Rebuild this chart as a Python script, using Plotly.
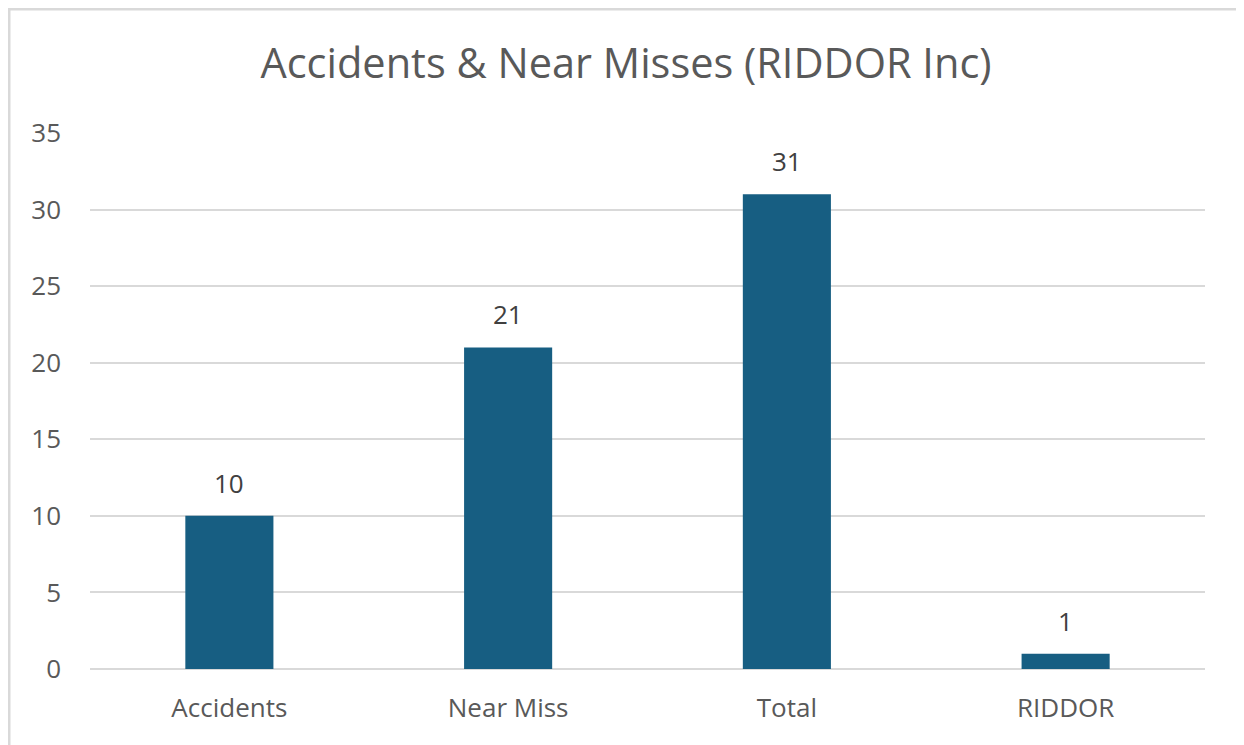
import plotly.graph_objects as go

categories = ["Accidents", "Near Miss", "Total", "RIDDOR"]
values = [10, 21, 31, 1]
y_ticks = [0, 5, 10, 15, 20, 25, 30, 35]
title_text = "Accidents & Near Misses (RIDDOR Inc)"

# page has an 8px body margin, so the figure is drawn from (8, 8)
W, H = 1236, 737
L, R, T, B = 82, 39, 125, 76
pw = W - L - R
ph = H - T - B

FONT = "Open Sans"

fig = go.Figure(go.Bar(
    x=categories, y=values,
    marker=dict(color="#175E82", line=dict(width=0)),
    width=0.316,
))

for c, v in zip(categories, values):
    fig.add_annotation(x=c, y=v, text=str(v), showarrow=False, yanchor="middle",
                       yshift=33, font=dict(size=26, color="#404040", family=FONT))

fig.update_layout(
    width=W, height=H,
    margin=dict(l=L, r=R, t=T, b=B),
    paper_bgcolor="white", plot_bgcolor="white",
    font=dict(family=FONT, color="#595959"),
    title=dict(text=title_text, x=0.5, xanchor="center", y=1 - 55 / H, yanchor="middle",
               font=dict(size=41.5, color="#595959", family=FONT)),
    showlegend=False,
    xaxis=dict(showgrid=False, showline=False, ticks="", tickfont=dict(size=26, color="#595959"),
               ticklabelstandoff=21),
    yaxis=dict(range=[0, 35], tickvals=y_ticks, showgrid=True, gridcolor="#D9D9D9", gridwidth=2,
               zeroline=True, zerolinecolor="#D9D9D9", zerolinewidth=2, showline=False, ticks="",
               tickfont=dict(size=26, color="#595959"), ticklabelstandoff=28),
)

fig.add_shape(type="rect", xref="paper", yref="paper",
              x0=(1 - L) / pw, x1=(1232 - L) / pw,
              y0=(H - B - 760) / ph, y1=(H - B - 1) / ph,
              line=dict(color="#D9D9D9", width=3), fillcolor="rgba(0,0,0,0)", layer="below")

fig.write_html("out.html")
